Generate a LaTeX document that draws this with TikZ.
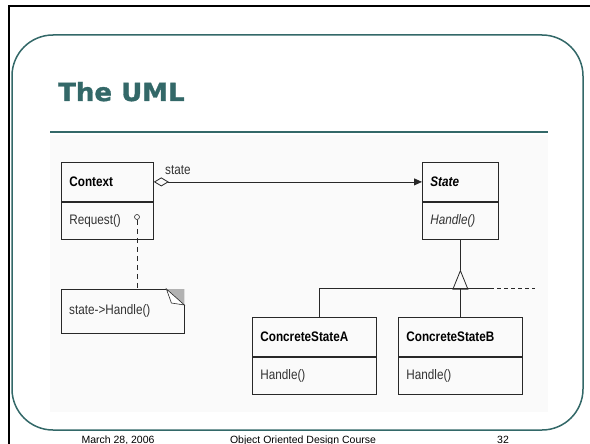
\documentclass[tikz,border=0pt]{standalone}
\usepackage{fontspec}
\setmainfont{Liberation Sans}
\newfontfamily\umlfont{Liberation Sans}[FakeStretch=0.85]
\newfontfamily\titlefont{DejaVu Sans}[FakeStretch=1.04, BoldFeatures={FakeBold=1.3}]
\usetikzlibrary{arrows.meta,positioning}
\definecolor{slideteal}{RGB}{51,104,104}
\definecolor{umlline}{RGB}{40,40,40}
\tikzset{
	clshead/.style={draw=umlline, line width=0.8pt, text width=#1, inner xsep=8pt, inner ysep=0pt, minimum height=39pt, anchor=north west, font=\umlfont\fontsize{13.8}{15}\selectfont\bfseries},
	clsbody/.style={draw=umlline, line width=0.8pt, text width=#1, inner xsep=8pt, inner ysep=0pt, minimum height=37pt, text=black!80, font=\umlfont\fontsize{13.8}{15}\selectfont},
	umltext/.style={inner sep=0pt, text=black!80, font=\umlfont\fontsize{13.8}{15}\selectfont},
	footer/.style={anchor=base, inner sep=0pt, font=\fontsize{10.5}{12}\selectfont},
}
\begin{document}
\begin{tikzpicture}[x=1pt, y=-1pt]
	\useasboundingbox (0,0) rectangle (590,444);
	\draw[line width=2.5pt] (9,444) -- (9,6) -- (590,6);
	\draw[slideteal, line width=1.5pt, rounded corners=41pt] (12,35) rectangle (583,430);
	\fill[black!2] (50,135) rectangle (548,412);
	\node[anchor=base west, inner sep=0pt, text=slideteal, font=\titlefont\bfseries\fontsize{25}{30}\selectfont] (title) at (58,101) {The UML};
	\draw[slideteal, line width=2pt] (50,132) -- (548,132);

	\node[clshead=76pt] (ctx) at (61,162) {Context};
	\node[clsbody=76pt, below=0pt of ctx] (ctxops) {Request()};
	\node[clshead=60pt] (st) at (422,162) {\itshape State};
	\node[clsbody=60pt, below=0pt of st] (stops) {\itshape Handle()};
	\node[clshead=108pt] (csa) at (252,317) {ConcreteStateA};
	\node[clsbody=108pt, below=0pt of csa] (csaops) {Handle()};
	\node[clshead=108pt] (csb) at (398,317) {ConcreteStateB};
	\node[clsbody=108pt, below=0pt of csb] (csbops) {Handle()};

	\draw[umlline, line width=0.8pt, {Diamond[open,length=15pt,width=9pt]}-{Triangle[length=8pt,width=7pt]}] (ctx.east) -- (st.west);
	\node[umltext, anchor=west] (rolelbl) at (165,170) {state};

	\node[umltext, anchor=north west, text width=107pt, minimum height=44pt, inner xsep=8pt] (note) at (61,289) {state->Handle()};
	\fill[gray!60] ([xshift=-18pt]note.north east) -- (note.north east) -- ([yshift=-16pt]note.north east) -- cycle;
	\draw[umlline, line width=0.8pt] ([xshift=-18pt]note.north east) -- (note.north west) -- (note.south west) -- (note.south east) -- ([yshift=-16pt]note.north east);
	\draw[umlline, line width=0.6pt, fill=white] ([xshift=-18pt]note.north east) -- ([xshift=-13pt,yshift=-14pt]note.north east) -- ([yshift=-16pt]note.north east) -- cycle;
	\node[draw=umlline, circle, inner sep=0pt, minimum size=5pt, line width=0.6pt] (reqdot) at (137,217) {};
	\draw[umlline, line width=0.6pt, dash pattern=on 5pt off 4pt] (reqdot) -- (reqdot |- note.north);

	\coordinate (apex) at ([yshift=-30pt]stops.south);
	\coordinate (gen) at ([yshift=-50pt]stops.south);
	\coordinate (barA) at (319,288);
	\coordinate (barR) at (490,288);
	\coordinate (barEnd) at (535,288);
	\draw[umlline, line width=0.8pt] (stops.south) -- (apex);
	\draw[umlline, line width=0.8pt, -{Triangle[open,length=20pt,width=16pt]}] (gen) -- (apex);
	\draw[umlline, line width=0.8pt] (barA) -- (barR);
	\draw[umlline, line width=0.8pt, dash pattern=on 4pt off 3pt] (barR) -- (barEnd);
	\draw[umlline, line width=0.8pt] (barA) -- (barA |- csa.north);
	\draw[umlline, line width=0.8pt] (gen) -- (csb.north);

	\node[footer] (date) at (118,443) {March 28, 2006};
	\node[footer] (course) at (303,443) {Object Oriented Design Course};
	\node[footer] (pageno) at (503,443) {32};
\end{tikzpicture}
\end{document}
